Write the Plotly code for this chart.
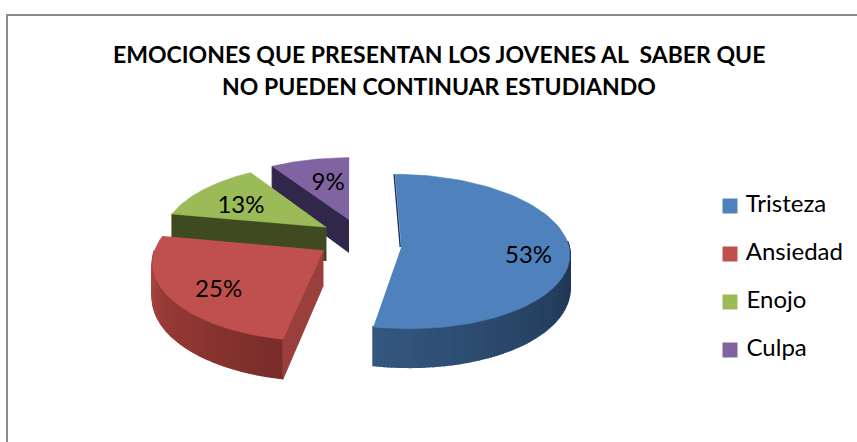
"""
Pastel 3D con porciones separadas: emociones de los jóvenes.
Plotly no trae pie 3D, así que cada porción se arma con polígonos en ejes de píxeles.
"""

import numpy as np
import plotly.graph_objects as go

categories = ["Tristeza", "Ansiedad", "Enojo", "Culpa"]
values = [53, 25, 13, 9]
title_lines = ["EMOCIONES QUE PRESENTAN LOS JOVENES AL\u00a0 SABER QUE",
               "NO PUEDEN CONTINUAR ESTUDIANDO"]

W, H = 857, 442
FONT = "Lato, 'Open Sans', sans-serif"

top_colors = ["#4f81bd", "#c0504d", "#9bbb59", "#8064a2"]
# pared exterior: color claro → oscuro según la luz
wall_light = ["#34577f", "#a9443f", "#4a5626", "#3a2e55"]
wall_dark = ["#1c324d", "#7a2d2b", "#3f4a20", "#30264a"]
cut_colors = ["#1f3550", "#9a3f3b", "#404a20", "#31274a"]

# proyección
CX, CY, VX = 360, 238, 350
A, B, KAPPA, DEPTH = 165, 75, 0.0018, 34
offsets = [(41, 3), (-36, 12), (-34, -11), (-11, -19)]  # explosión de cada porción
apex_dy = [6, 0, 0, 0]  # la muesca de Tristeza cae un poco más abajo
label_r = [0.76, 0.7, 0.68, 0.5]
label_dy = [11, 8, 6, -4]

legend_x = 730
legend_y = [206, 254, 302, 350]


def project(i, t, r=1.0, drop=0.0):
    """t en grados, horario desde las 12"""
    rad = np.radians(t)
    y0 = offsets[i][1] - B * r * np.cos(rad)
    x0 = CX + offsets[i][0] + A * r * np.sin(rad)
    s = 1 / (1 - KAPPA * y0)
    return VX + (x0 - VX) * s, CY + y0 * s + drop * s


def poly(fig, xs, ys, color, width=1.0):
    fig.add_trace(go.Scatter(
        x=list(xs), y=list(ys), mode="lines", fill="toself", fillcolor=color,
        line=dict(color=color, width=width), hoverinfo="skip", showlegend=False,
    ))


def mix(c1, c2, f):
    a = [int(c1[j:j + 2], 16) for j in (1, 3, 5)]
    b = [int(c2[j:j + 2], 16) for j in (1, 3, 5)]
    return "rgb(%d,%d,%d)" % tuple(round(p + (q - p) * f) for p, q in zip(a, b))


total = sum(values)
edges = np.concatenate([[0], np.cumsum(values)]) / total * 360

fig = go.Figure()

# de atrás hacia adelante: Culpa, Enojo, Ansiedad, Tristeza
for i in [3, 2, 1, 0]:
    t0, t1 = edges[i], edges[i + 1]
    ax, ay = project(i, 0, r=0)
    ay += apex_dy[i]
    ax2, ay2 = project(i, 0, r=0, drop=DEPTH)

    # pared del corte que mira al frente
    if i > 0:
        ex, ey = project(i, t0)
        ex2, ey2 = project(i, t0, drop=DEPTH)
        poly(fig, [ax, ex, ex2, ax2], [ay, ey, ey2, ay2], cut_colors[i])
    else:
        # en Tristeza solo asoma un filo oscuro junto al borde de las 12
        ex, ey = project(i, t0)
        fig.add_trace(go.Scatter(
            x=[ex - 1, ax - 1], y=[ey, ay], mode="lines",
            line=dict(color=cut_colors[i], width=1.5), hoverinfo="skip", showlegend=False,
        ))

    # pared exterior con degradado
    lo, hi = max(t0, 90), min(t1, 270)
    if hi > lo:
        steps = np.linspace(lo, hi, 91)
        for j in range(90):
            p0 = project(i, steps[j])
            p1 = project(i, steps[j + 1])
            p2 = project(i, steps[j + 1], drop=DEPTH - 1)
            p3 = project(i, steps[j], drop=DEPTH - 1)
            col = mix(wall_dark[i], wall_light[i], j / 89)
            poly(fig, [p0[0], p1[0], p2[0], p3[0]], [p0[1], p1[1], p2[1], p3[1]], col, width=2)

    # cara superior
    ts = np.linspace(t0, t1, 80)
    px, py = project(i, ts)
    poly(fig, np.r_[ax, px], np.r_[ay, py], top_colors[i], width=0.5)

# etiquetas de porcentaje
for i, val in enumerate(values):
    mid = (edges[i] + edges[i + 1]) / 2
    lx, ly = project(i, mid, r=label_r[i])
    fig.add_trace(go.Scatter(
        x=[lx], y=[ly + label_dy[i]], mode="text", text=[f"{val}%"],
        textfont=dict(family=FONT, size=24, color="#000000"),
        hoverinfo="skip", showlegend=False,
    ))

# leyenda
for i, name in enumerate(categories):
    fig.add_trace(go.Scatter(
        x=[legend_x], y=[legend_y[i]], mode="markers+text", text=["\u00a0" + name],
        textposition="middle right",
        marker=dict(symbol="square", size=15, color=top_colors[i]),
        textfont=dict(family=FONT, size=24, color="#000000"),
        hoverinfo="skip", showlegend=False,
    ))

for k, line in enumerate(title_lines):
    fig.add_annotation(
        text=f"<b>{line}</b>", x=439, y=54 + 32 * k, showarrow=False,
        font=dict(family=FONT, size=23, color="#000000"),
    )

fig.add_shape(type="rect", x0=7, y0=15, x1=W + 20, y1=H + 20,
              line=dict(color="#8c8c8c", width=2), fillcolor="rgba(0,0,0,0)")

fig.update_layout(
    width=W, height=H, margin=dict(l=0, r=0, t=0, b=0),
    paper_bgcolor="#ffffff", plot_bgcolor="#ffffff", showlegend=False,
)
fig.update_xaxes(range=[0, W], visible=False, fixedrange=True)
fig.update_yaxes(range=[H, 0], visible=False, fixedrange=True)

fig.write_html(
    "out.html",
    config={"displayModeBar": False},
    post_script="document.body.style.margin='0';document.body.style.overflow='hidden';",
)
